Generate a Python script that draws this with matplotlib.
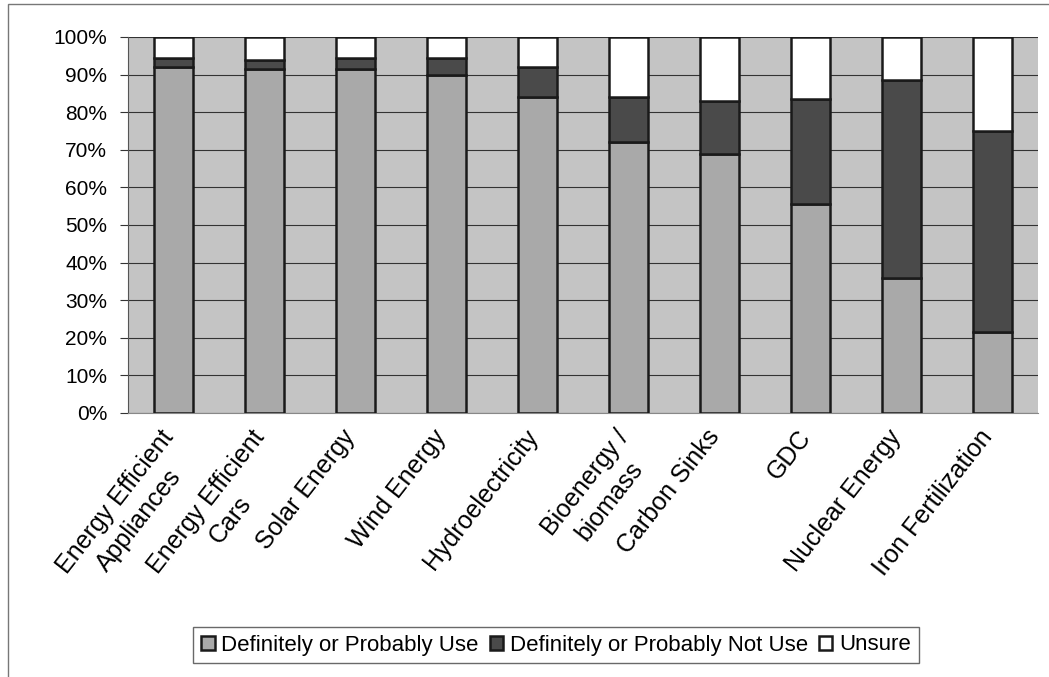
import matplotlib
matplotlib.use("Agg")
import matplotlib.pyplot as plt
import matplotlib.patches as patches
import matplotlib.transforms as mtransforms
import numpy as np

categories = ["Energy Efficient\nAppliances", "Energy Efficient\nCars", "Solar Energy",
              "Wind Energy", "Hydroelectricity", "Bioenergy /\nbiomass", "Carbon Sinks",
              "GDC", "Nuclear Energy", "Iron Fertilization"]
use = [92, 91.5, 91.5, 90, 84, 72, 69, 55.5, 36, 21.5]
not_use = [2.5, 2.5, 3, 4.3, 8, 12, 14, 28, 52.5, 53.5]
unsure = [5.5, 6, 5.5, 5.7, 8, 16, 17, 16.5, 11.5, 25]
series_names = ["Definitely or Probably Use", "Definitely or Probably Not Use", "Unsure"]
yticks = [0, 10, 20, 30, 40, 50, 60, 70, 80, 90, 100]

plt.rcParams['font.family'] = ['Liberation Sans', 'DejaVu Sans']

fig = plt.figure(figsize=(10.49, 6.77), dpi=100)
W, H = 1049, 677
ax = fig.add_axes([128 / W, 1 - 413 / H, 910 / W, 376 / H])
ax.set_facecolor('#c4c4c4')

# outer chart frame
fig.patches.append(patches.Rectangle((8 / W, -0.05), 1.1, 1 - 4 / H + 0.05,
                                     transform=fig.transFigure, fill=False,
                                     edgecolor='#777777', linewidth=1))

x = np.arange(len(categories))
w = 0.42
use = np.array(use)
not_use = np.array(not_use)
unsure = np.array(unsure)
ax.bar(x, use, w, color='#a9a9a9', edgecolor='#1a1a1a', linewidth=1.8, label=series_names[0], zorder=3)
ax.bar(x, not_use, w, bottom=use, color='#4a4a4a', edgecolor='#1a1a1a', linewidth=1.8, label=series_names[1], zorder=3)
ax.bar(x, unsure, w, bottom=use + not_use, color='white', edgecolor='#1a1a1a', linewidth=1.8, label=series_names[2], zorder=3)

ax.set_xlim(-0.5, len(categories) - 0.5)
ax.set_ylim(0, 100)
ax.set_yticks(yticks)
ax.set_yticklabels([f"{t}%" for t in yticks], fontsize=15)
ax.yaxis.grid(True, color='#333333', linewidth=0.8, zorder=1)
ax.set_axisbelow(True)
ax.tick_params(axis='y', direction='out', length=6, color='#333333', pad=9)
ax.tick_params(axis='x', length=0, pad=6)
ax.set_xticks(x)
ax.set_xticklabels(categories, rotation=52, ha='right', rotation_mode='anchor',
                   fontsize=18, multialignment='center', linespacing=1.35)
# nudge labels left a little, like the original
shift = mtransforms.ScaledTranslation(-14 / 100, -4 / 100, fig.dpi_scale_trans)
for lab in ax.get_xticklabels():
    lab.set_transform(lab.get_transform() + shift)
for s in ['top', 'right']:
    ax.spines[s].set_visible(False)
ax.spines['left'].set_color('#555555')
ax.spines['bottom'].set_color('#888888')

leg = fig.legend(loc='center', bbox_to_anchor=(556 / W, 1 - 645 / H), ncol=3,
                 fontsize=16, frameon=True, fancybox=False, edgecolor='#444444',
                 handlelength=0.6, handleheight=0.6, handletextpad=0.3,
                 columnspacing=0.5, borderpad=0.35)
leg.get_frame().set_linewidth(1)

fig.savefig("out.png", dpi=100, facecolor='white')
